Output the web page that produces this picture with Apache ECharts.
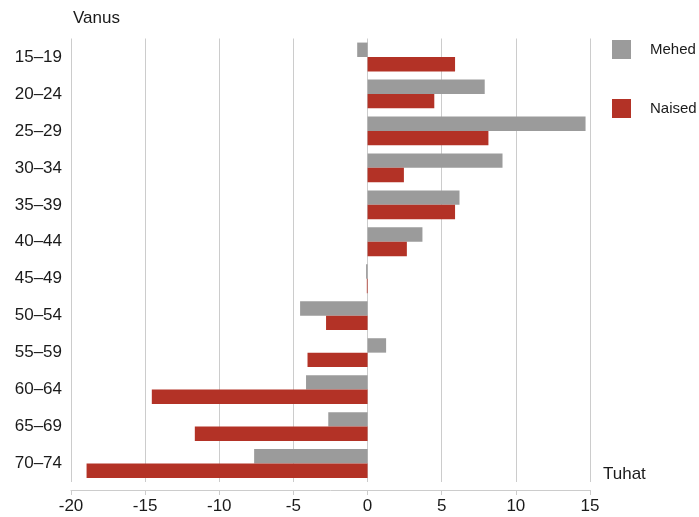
<!DOCTYPE html>
<html>
<head>
<meta charset="utf-8">
<script src="https://cdn.jsdelivr.net/npm/echarts@6/dist/echarts.min.js"></script>
<style>html,body{margin:0;padding:0;background:#fff}#c{width:699px;height:517px}</style>
</head>
<body>
<div id="c"></div>
<script>
const categories = ['15–19','20–24','25–29','30–34','35–39','40–44','45–49','50–54','55–59','60–64','65–69','70–74'];
const mehed = [-0.7, 7.9, 14.7, 9.1, 6.2, 3.7, -0.1, -4.55, 1.25, -4.15, -2.65, -7.65];
const naised = [5.9, 4.5, 8.15, 2.45, 5.9, 2.65, -0.05, -2.8, -4.05, -14.55, -11.65, -18.95];
const xTicks = [-20, -15, -10, -5, 0, 5, 10, 15];

const font = 'Liberation Sans, Arial, sans-serif';
const chart = echarts.init(document.getElementById('c'));
chart.setOption({
  animation: false,
  backgroundColor: '#fff',
  textStyle: { fontFamily: font },
  grid: { left: 71, right: 109, top: 38.5, bottom: 35, containLabel: false },
  legend: {
    orient: 'vertical', left: 607, top: 35, padding: 5,
    itemWidth: 19, itemHeight: 19, itemGap: 40,
    icon: 'rect',
    textStyle: { fontSize: 15, color: '#1a1a1a', fontFamily: font, padding: [0, 0, 0, 14] },
    data: ['Mehed', 'Naised']
  },
  xAxis: {
    type: 'value', min: xTicks[0], max: xTicks[xTicks.length - 1], interval: 5,
    offset: 8,
    axisLine: { show: true, lineStyle: { color: '#cccccc', width: 1 } },
    axisTick: { show: true, length: 5, lineStyle: { color: '#cccccc' } },
    axisLabel: { fontSize: 17, color: '#1a1a1a', margin: 8, fontFamily: font },
    splitLine: { show: true, lineStyle: { color: '#cccccc', width: 1 } }
  },
  yAxis: {
    type: 'category', data: categories, inverse: true,
    axisLine: { show: false }, axisTick: { show: false },
    axisLabel: { fontSize: 17, color: '#1a1a1a', margin: 9, fontFamily: font }
  },
  series: [
    { name: 'Mehed', type: 'bar', data: mehed, itemStyle: { color: '#9b9b9b' }, barGap: '0%', barCategoryGap: '22%' },
    { name: 'Naised', type: 'bar', data: naised, itemStyle: { color: '#b33226' }, barGap: '0%', barCategoryGap: '22%' }
  ],
  graphic: [
    { type: 'text', left: 73, top: 10, style: { text: 'Vanus', fontSize: 17, fill: '#1a1a1a', fontFamily: font } },
    { type: 'text', left: 603, top: 466, style: { text: 'Tuhat', fontSize: 17, fill: '#1a1a1a', fontFamily: font } }
  ]
});
</script>
</body>
</html>
